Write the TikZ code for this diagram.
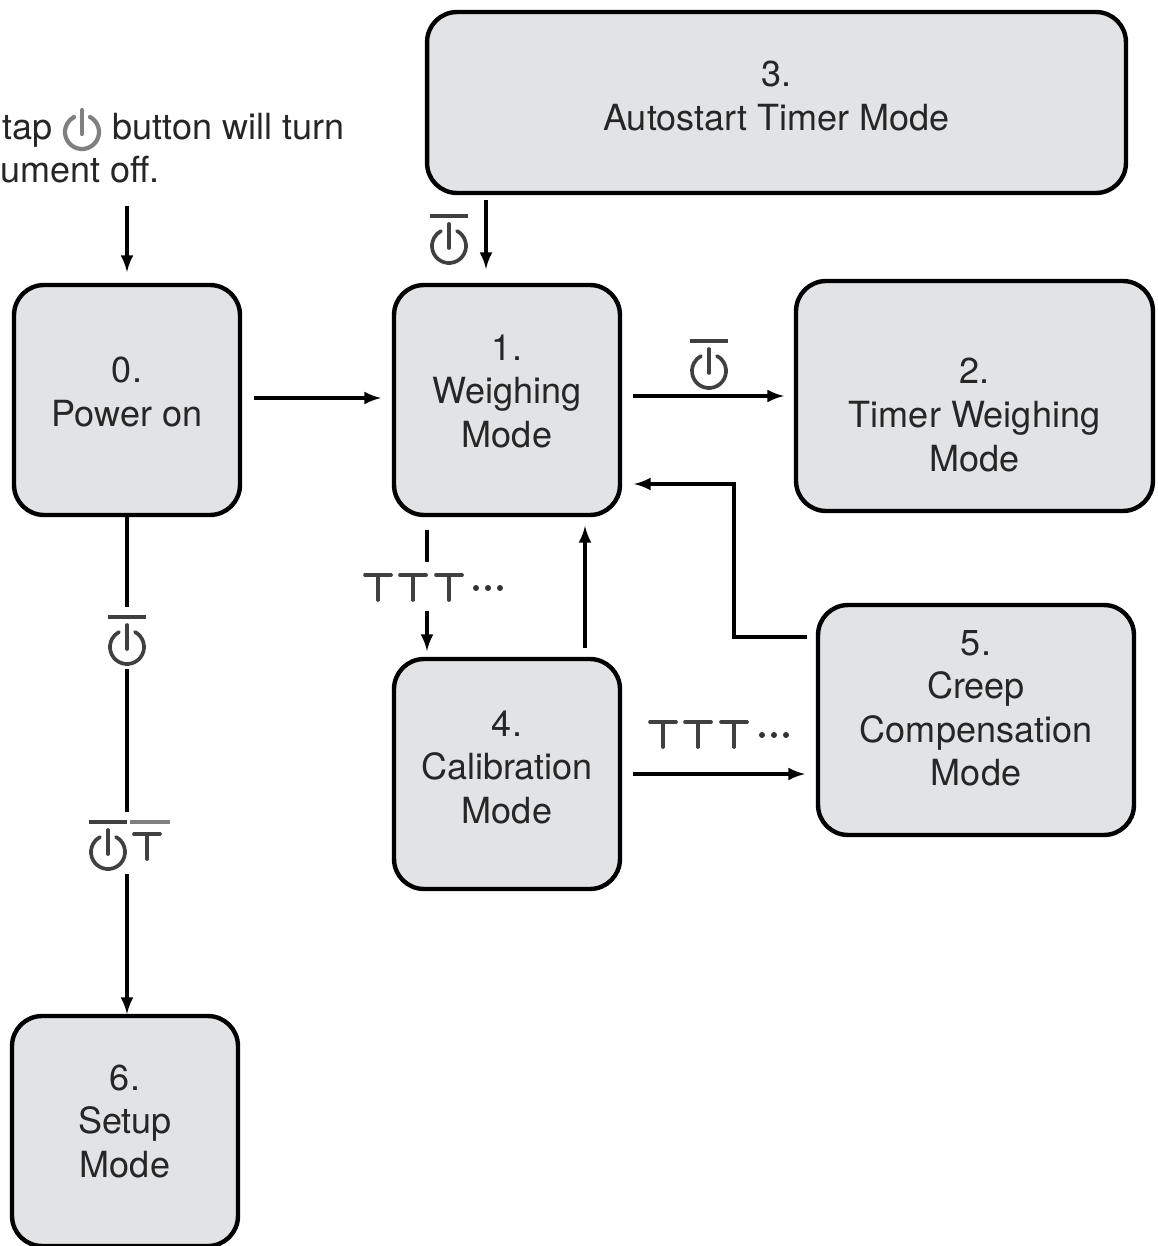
\documentclass[tikz,border=0pt]{standalone}
\usepackage{fontspec}
\setmainfont{TeX Gyre Heros}

\definecolor{modeFill}{RGB}{226,227,229}
\tikzstyle{modeBox}=[shape=rectangle,rounded corners=0.6cm,draw=black,line width=2.5pt,fill=modeFill,align=center,text=black!85,font=\fontsize{20.5}{24.8}\selectfont,outer sep=0pt,inner sep=0pt]
\tikzstyle{plainText}=[anchor=base west,inner sep=0pt,text=black!85,font=\fontsize{20.5}{24.8}\selectfont]
\tikzstyle{flow}=[-latex,line width=2.2pt]
\tikzstyle{flowLine}=[line width=2.2pt]
\tikzstyle{icon}=[line width=2.1pt,draw=black!75,line cap=round]

\tikzset{
  pics/powerIcon/.style={code={
    \draw[icon] (-62:17) arc (-62:242:17);
    \draw[icon] (0,-22) -- (0,2);
  }},
  pics/powerBar/.style={code={
    \draw[icon] (-62:17) arc (-62:242:17);
    \draw[icon] (0,-22) -- (0,2);
    \draw[icon,line cap=butt] (-19,-30) -- (19,-30);
  }},
  pics/tapIcon/.style={code={
    \draw[icon] (-13,0) -- (13,0);
    \draw[icon] (0,0) -- (0,25);
  }}
}

\begin{document}
\begin{tikzpicture}[x=0.02cm,y=-0.02cm]
        \useasboundingbox (0,0) rectangle (1157,1246);
        \clip (0,0) rectangle (1157,1246);

        % modes
        \node[modeBox,minimum width=4.52cm,minimum height=4.6cm] (m0) at (127,400)  {0.\\Power on\\[-15.7pt]\mbox{}};
        \node[modeBox,minimum width=4.52cm,minimum height=4.6cm] (m1) at (507,400)  {1.\\Weighing\\Mode\\[-14.6pt]\mbox{}};
        \node[modeBox,minimum width=7.14cm,minimum height=4.6cm] (m2) at (974.5,396)  {\mbox{}\\[11.4pt]2.\\Timer Weighing\\Mode};
        \node[modeBox,minimum width=13.98cm,minimum height=3.62cm] (m3) at (776.5,102.5)  {3.\\Autostart Timer Mode\\[-16.9pt]\mbox{}};
        \node[modeBox,minimum width=4.52cm,minimum height=4.6cm] (m4) at (507,774)  {4.\\Calibration\\Mode\\[-16.9pt]\mbox{}};
        \node[modeBox,minimum width=6.32cm,minimum height=4.6cm] (m5) at (976,720)  {5.\\Creep\\Compensation\\Mode\\[-11.2pt]\mbox{}};
        \node[modeBox,minimum width=4.52cm,minimum height=4.6cm] (m6) at (125,1131)  {6.\\Setup\\Mode\\[-13.5pt]\mbox{}};

        % note
        \node[plainText] (n1) at (2,140) {tap};
        \node[plainText] (n2) at (112,140) {button will turn};
        \node[plainText] (n3) at (0,183) {ument off.};
        \pic[icon/.append style={draw=black!50,line width=2.4pt}] at (82,132) {powerIcon};

        % free ends
        \coordinate (c0) at (127,206);
        \coordinate (c1) at (127,272);
        \coordinate (c2) at (127,607);
        \coordinate (c3) at (127,669);
        \coordinate (c4) at (127,812);
        \coordinate (c5) at (127,874);
        \coordinate (c6) at (254,398);
        \coordinate (c7) at (381,398);
        \coordinate (c8) at (486,200);
        \coordinate (c9) at (486,269);
        \coordinate (c10) at (633,396);
        \coordinate (c11) at (784,396);
        \coordinate (c12) at (427,530);
        \coordinate (c13) at (427,562);
        \coordinate (c14) at (427,611);
        \coordinate (c15) at (427,651);
        \coordinate (c16) at (585,648);
        \coordinate (c17) at (585,526);
        \coordinate (c18) at (807,637);
        \coordinate (c19) at (734,637);
        \coordinate (c20) at (734,484);
        \coordinate (c21) at (634,484);
        \coordinate (c22) at (633,774);
        \coordinate (c23) at (805,774);
        \coordinate (c24) at (127,1014);

        \draw [flow] (c0) to (c1);
        \draw [flow] (c6) to (c7);
        \draw [flow] (c8) to (c9);
        \draw [flow] (c10) to (c11);
        \draw [flow] (c14) to (c15);
        \draw [flow] (c16) to (c17);
        \draw [flow] (c18) -- (c19) -- (c20) -- (c21);
        \draw [flow] (c22) to (c23);
        \draw [flow] (c5) to (c24);
        \draw [flowLine] (c12) to (c13);
        \draw [flowLine] (m0.south) to (c2);
        \draw [flowLine] (c3) to (c4);

        % keys
        \pic at (449,246) {powerBar};
        \pic at (709,371) {powerBar};
        \pic at (127,647) {powerBar};
        \pic at (108,852) {powerBar};
        \pic at (147,834) {tapIcon};
        \draw[icon,draw=black!50,line cap=butt] (130,822) -- (170,822);
        \foreach \tx in {378,413,449} \pic at (\tx,575) {tapIcon};
        \foreach \tx in {663,698,734} \pic at (\tx,722) {tapIcon};
        \foreach \tx in {476,488,500} \fill[black!80] (\tx,588) circle (3);
        \foreach \tx in {762,774,786} \fill[black!80] (\tx,735) circle (3);
\end{tikzpicture}
\end{document}
